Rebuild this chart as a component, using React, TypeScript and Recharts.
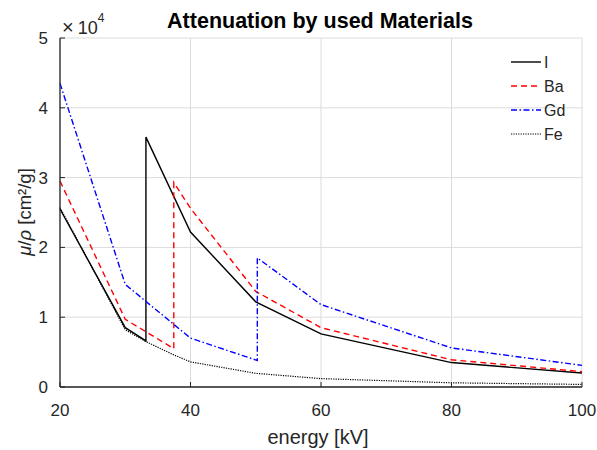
import React from "react";
import { LineChart, Line, XAxis, YAxis, CartesianGrid } from "recharts";

// energies in keV, attenuation in units of 1e4 cm²/g
const iodineE = [20, 30, 33.17, 33.17, 40, 50, 60, 80, 100];
const iodineMu = [2.55, 0.85, 0.66, 3.58, 2.22, 1.22, 0.76, 0.35, 0.2];

const bariumE = [20, 30, 37.44, 37.44, 40, 50, 60, 80, 100];
const bariumMu = [2.95, 0.97, 0.55, 2.93, 2.56, 1.37, 0.85, 0.39, 0.22];

const gadoliniumE = [20, 30, 40, 50.24, 50.24, 60, 80, 100];
const gadoliniumMu = [4.35, 1.47, 0.7, 0.38, 1.85, 1.18, 0.56, 0.31];

const ironE = [20, 30, 33.17, 37.44, 40, 50, 60, 80, 100];
const ironMu = [2.57, 0.82, 0.65, 0.46, 0.36, 0.196, 0.12, 0.06, 0.037];

const xTicks = [20, 40, 60, 80, 100];
const yTicks = [0, 1, 2, 3, 4, 5];

const toPoints = (xs: number[], ys: number[]) => xs.map((x, i) => ({ x, y: ys[i] }));

const series = [
  { name: "I", data: toPoints(iodineE, iodineMu), color: "#000000", dash: undefined, width: 1.4 },
  { name: "Ba", data: toPoints(bariumE, bariumMu), color: "#ff0000", dash: "6 4", width: 1.4 },
  { name: "Gd", data: toPoints(gadoliniumE, gadoliniumMu), color: "#0000ff", dash: "6 2.5 1.5 2.5", width: 1.4 },
  { name: "Fe", data: toPoints(ironE, ironMu), color: "#000000", dash: "1.2 1.2", width: 1.2 },
];

const FONT = "'Liberation Sans', Arial, Helvetica, sans-serif";
const TEXT = "#262626";

export default function App() {
  return (
    <div style={{ position: "absolute", left: 0, top: 0, width: 597, height: 450, background: "#fff", fontFamily: FONT }}>
      <LineChart width={597} height={450} margin={{ top: 38, right: 15, left: 0, bottom: 0 }}>
        <CartesianGrid stroke="#dcdcdc" strokeWidth={1} />
        <XAxis
          dataKey="x"
          type="number"
          domain={[20, 100]}
          ticks={xTicks}
          allowDuplicatedCategory={false}
          height={63}
          axisLine={{ stroke: "#262626", strokeWidth: 1.3 }}
          tickLine={{ stroke: "#262626" }}
          tickSize={-5}
          tickMargin={22}
          tick={{ fill: TEXT, fontSize: 17, fontFamily: FONT }}
        />
        <YAxis
          dataKey="y"
          type="number"
          domain={[0, 5]}
          ticks={yTicks}
          width={60}
          axisLine={{ stroke: "#262626", strokeWidth: 1.3 }}
          tickLine={{ stroke: "#262626" }}
          tickSize={-5}
          tickMargin={17}
          tick={{ fill: TEXT, fontSize: 17, fontFamily: FONT }}
        />
        {series.map((s) => (
          <Line
            key={s.name}
            data={s.data}
            dataKey="y"
            name={s.name}
            type="linear"
            stroke={s.color}
            strokeWidth={s.width}
            strokeDasharray={s.dash}
            dot={false}
            activeDot={false}
            isAnimationActive={false}
          />
        ))}
      </LineChart>
      <svg
        width={597}
        height={450}
        style={{ position: "absolute", left: 0, top: 0, pointerEvents: "none", fontFamily: FONT }}
      >
        <text x={320} y={28} textAnchor="middle" fontSize={21.5} fontWeight="bold" fill="#000">
          Attenuation by used Materials
        </text>
        <text x={62} y={34} fill={TEXT}>
          <tspan fontSize={20}>×</tspan>
          <tspan fontSize={18} dx={4}>10</tspan>
          <tspan fontSize={12} dy={-12}>4</tspan>
        </text>
        <text x={318} y={444} textAnchor="middle" fontSize={20} fill={TEXT}>
          energy [kV]
        </text>
        <text transform="translate(31,212) rotate(-90)" textAnchor="middle" fontSize={18.5} fill={TEXT}>
          <tspan fontStyle="italic">μ</tspan>/<tspan fontStyle="italic">ρ</tspan> [cm²/g]
        </text>
        {series.map((s, i) => (
          <g key={s.name}>
            <line
              x1={511}
              x2={541}
              y1={62 + i * 24}
              y2={62 + i * 24}
              stroke={s.color}
              strokeWidth={s.width}
              strokeDasharray={s.dash}
            />
            <text x={544} y={62 + i * 24 + 6} fontSize={16} fill={TEXT}>
              {s.name}
            </text>
          </g>
        ))}
      </svg>
    </div>
  );
}
